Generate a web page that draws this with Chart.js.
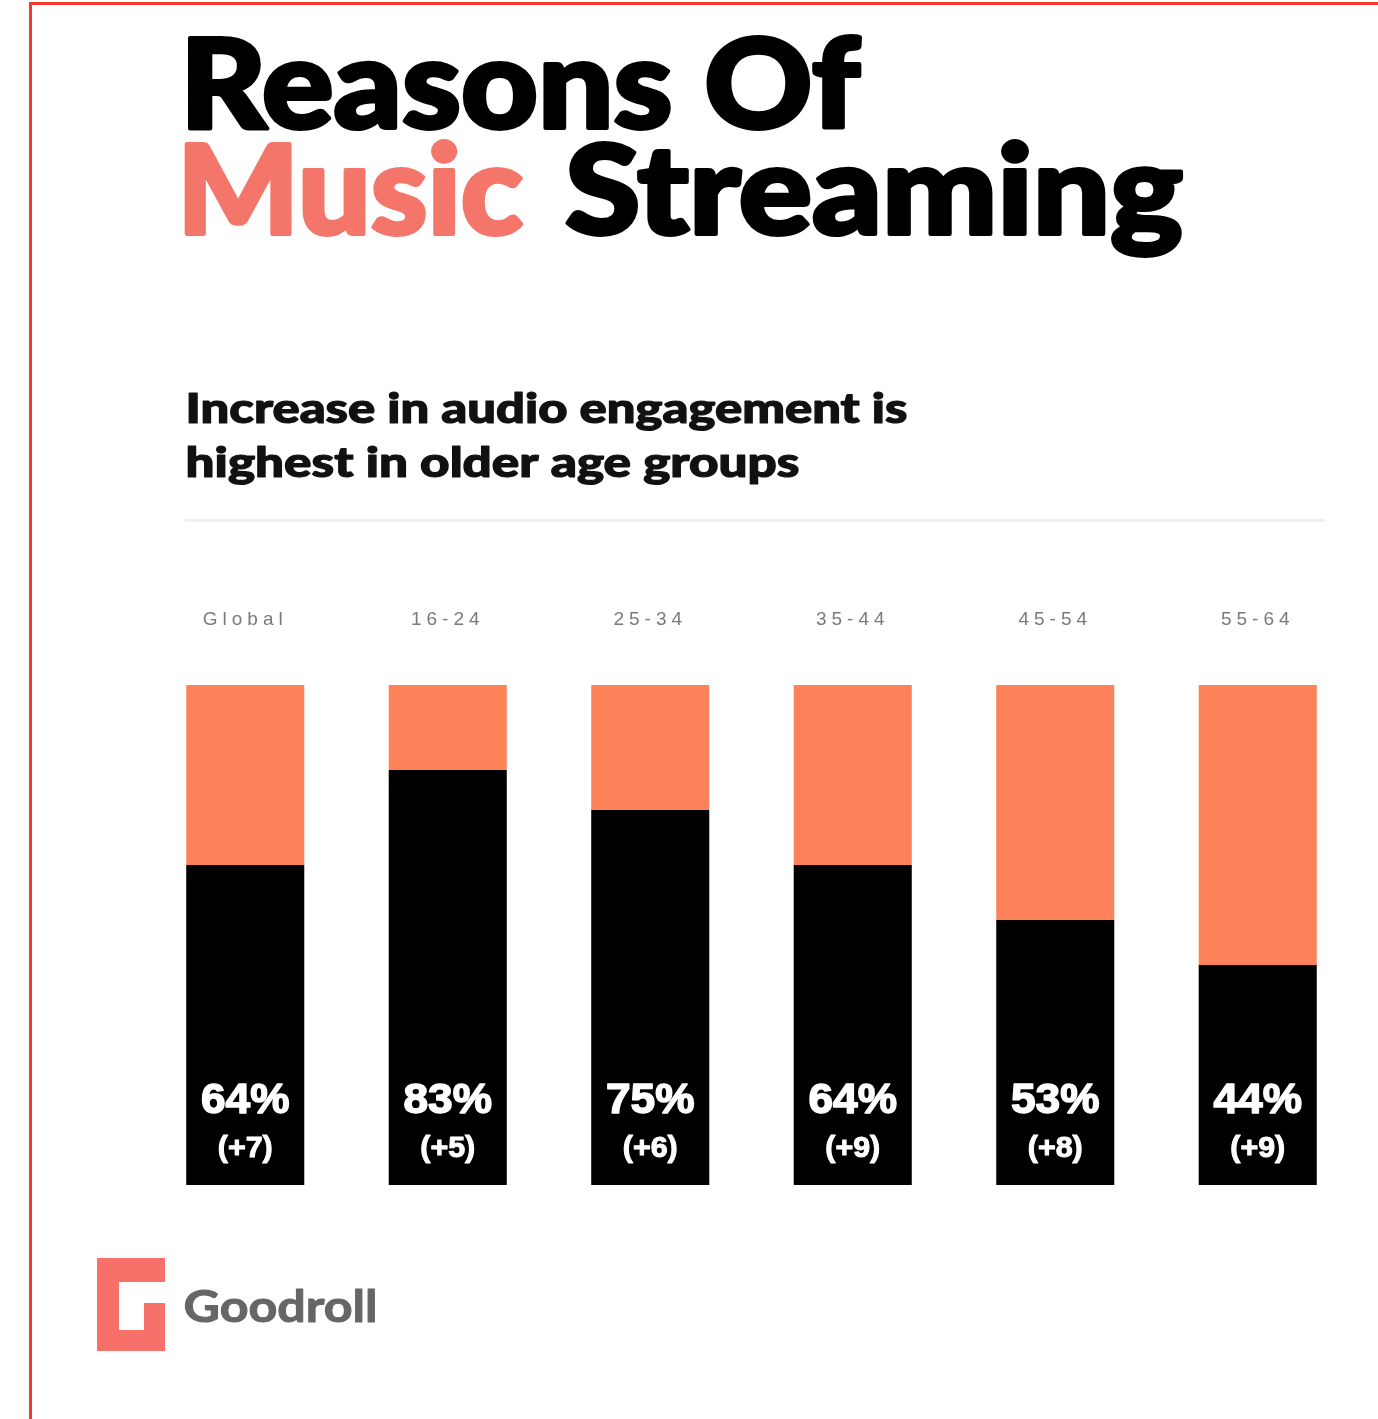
<!DOCTYPE html>
<html>
<head>
<meta charset="utf-8">
<script src="https://cdn.jsdelivr.net/npm/chart.js@4"></script>
<style>
  html, body { margin: 0; padding: 0; background: #fff; overflow: hidden; }
  canvas { display: block; }
</style>
</head>
<body>
<canvas id="chart" width="1378" height="1419"></canvas>
<script>
// Age groups along the top of the bars
const categories = ['Global', '16-24', '25-34', '35-44', '45-54', '55-64'];
// Share of listeners reporting higher audio engagement (%)
const shares = [64, 83, 75, 64, 53, 44];
// Remaining share of each column (%)
const remainder = [36, 17, 25, 36, 47, 56];
// Change in points shown under each share
const changes = ['+7', '+5', '+6', '+9', '+8', '+9'];

const CORAL = '#fd8259';
const TITLE_CORAL = '#f4766a';
const HEAD_FONT = 'Lato, "Open Sans", "DejaVu Sans", sans-serif';
const BODY_FONT = '"Liberation Sans", Arial, "DejaVu Sans", sans-serif';

// Draws text stretched/condensed so it spans the given width,
// optionally with an outline to make the strokes heavier
function fitText(ctx, text, x, y, width, font, color, align, weightBoost) {
  ctx.save();
  ctx.font = font;
  ctx.fillStyle = color;
  ctx.strokeStyle = color;
  ctx.lineJoin = 'round';
  ctx.textBaseline = 'alphabetic';
  ctx.textAlign = 'left';
  const boost = weightBoost || 0;
  const w = ctx.measureText(text).width;
  const sx = (width - boost) / w;
  let left = x + boost / 2;
  if (align === 'center') left = x - width / 2 + boost / 2;
  ctx.translate(left, y);
  ctx.scale(sx, 1);
  ctx.fillText(text, 0, 0);
  if (boost > 0) {
    ctx.lineWidth = boost;
    ctx.strokeText(text, 0, 0);
  }
  ctx.restore();
}

// Page decorations: frame, headline, sub-heading, rule and logo
const pageDecor = {
  id: 'pageDecor',
  beforeDraw(chart) {
    const ctx = chart.ctx;
    ctx.save();
    ctx.fillStyle = '#fff';
    ctx.fillRect(0, 0, chart.width, chart.height);

    // frame
    ctx.fillStyle = '#f23b2c';
    ctx.fillRect(29, 2, chart.width - 29, 3);
    ctx.fillRect(29, 2, 3, chart.height - 2);

    // headline
    fitText(ctx, 'Reasons Of', 178, 128, 684, '900 124px ' + HEAD_FONT, '#000', 'left', 4);
    fitText(ctx, 'Music', 175, 234, 350, '900 124px ' + HEAD_FONT, TITLE_CORAL, 'left', 4);
    fitText(ctx, 'Streaming', 563, 234, 622, '900 124px ' + HEAD_FONT, '#000', 'left', 4);

    // sub-heading
    fitText(ctx, 'Increase in audio engagement is', 185, 423, 723, '900 41px ' + HEAD_FONT, '#111', 'left', 1.2);
    fitText(ctx, 'highest in older age groups', 185, 477, 615, '900 41px ' + HEAD_FONT, '#111', 'left', 1.2);

    // divider
    ctx.fillStyle = '#efefef';
    ctx.fillRect(185, 519, 1140, 3);

    // logo mark
    ctx.fillStyle = '#f7706a';
    ctx.fillRect(97, 1258, 68, 93);
    ctx.fillStyle = '#fff';
    ctx.fillRect(119, 1282, 25, 48);
    ctx.fillRect(119, 1282, 46, 21);
    fitText(ctx, 'Goodroll', 183, 1322, 195, 'bold 44px ' + HEAD_FONT, '#666', 'left', 1);

    ctx.restore();
    // spaced-out category labels
    ctx.letterSpacing = '5px';
  },
  beforeDatasetsDraw(chart) {
    chart.ctx.letterSpacing = '0px';
  },
  afterDatasetsDraw(chart) {
    const ctx = chart.ctx;
    const meta = chart.getDatasetMeta(0);
    const bottom = chart.chartArea.bottom;
    meta.data.forEach((bar, i) => {
      fitText(ctx, shares[i] + '%', bar.x, bottom - 72, 90, 'bold 42px ' + BODY_FONT, '#fff', 'center', 1.5);
      fitText(ctx, '(' + changes[i] + ')', bar.x, bottom - 28, 56, 'bold 29px ' + BODY_FONT, '#fff', 'center', 1);
    });
  }
};

new Chart(document.getElementById('chart'), {
  type: 'bar',
  data: {
    labels: categories,
    datasets: [
      { label: 'Share', data: shares, backgroundColor: '#000', stack: 'col' },
      { label: 'Remainder', data: remainder, backgroundColor: CORAL, stack: 'col' }
    ]
  },
  options: {
    responsive: false,
    animation: false,
    events: [],
    layout: { padding: { left: 144, right: 19, top: 590, bottom: 234 } },
    datasets: { bar: { categoryPercentage: 1, barPercentage: 0.583 } },
    plugins: { legend: { display: false }, tooltip: { enabled: false } },
    scales: {
      x: {
        stacked: true,
        position: 'top',
        grid: { display: false, drawTicks: false, tickLength: 0 },
        border: { display: false },
        ticks: { color: '#7a7a7a', font: { size: 19, family: BODY_FONT }, padding: 54 },
        afterFit(scale) { scale.height = 95; }
      },
      y: { stacked: true, min: 0, max: 100, display: false }
    }
  },
  plugins: [pageDecor]
});
</script>
</body>
</html>
